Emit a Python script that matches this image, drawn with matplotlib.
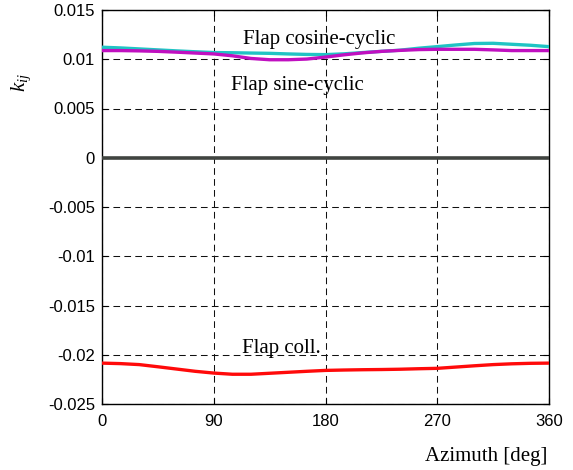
import matplotlib
matplotlib.use("Agg")
import matplotlib.pyplot as plt

plt.rcParams["mathtext.fontset"] = "custom"
plt.rcParams["mathtext.it"] = "Liberation Serif:italic"
plt.rcParams["mathtext.rm"] = "Liberation Serif"

azimuth = [0, 15, 30, 45, 60, 75, 90, 105, 120, 135, 150, 165, 180,
           195, 210, 225, 240, 255, 270, 285, 300, 315, 330, 345, 360]
flap_cos = [0.01122, 0.01115, 0.01105, 0.01095, 0.01085, 0.01076, 0.01068, 0.01066,
            0.01063, 0.01060, 0.01054, 0.01049, 0.01047, 0.01055, 0.01068, 0.01080,
            0.01092, 0.01112, 0.01128, 0.01145, 0.01160, 0.01162, 0.01152, 0.01142, 0.01128]
flap_sin = [0.01088, 0.01088, 0.01085, 0.01080, 0.01072, 0.01063, 0.01054, 0.01035,
            0.01008, 0.00995, 0.00995, 0.01002, 0.01022, 0.01045, 0.01065, 0.01080,
            0.01090, 0.01098, 0.01101, 0.01101, 0.01101, 0.01095, 0.01088, 0.01088, 0.01088]
flap_coll = [-0.02085, -0.02090, -0.02100, -0.02122, -0.02145, -0.02168, -0.02186, -0.02198,
             -0.02198, -0.02188, -0.02178, -0.02168, -0.02159, -0.02155, -0.02152, -0.02150,
             -0.02147, -0.02142, -0.02138, -0.02125, -0.02112, -0.02100, -0.02092, -0.02087, -0.02085]
zero_line = [0.0] * len(azimuth)

xticks = [0, 90, 180, 270, 360]
xticklabels = ["0", "90", "180", "270", "360"]
yticks = [-0.025, -0.02, -0.015, -0.01, -0.005, 0, 0.005, 0.01, 0.015]
yticklabels = ["-0.025", "-0.02", "-0.015", "-0.01", "-0.005", "0", "0.005", "0.01", "0.015"]

fig = plt.figure(figsize=(5.73, 4.70), dpi=100)
ax = fig.add_axes([102 / 573, 1 - 404 / 470, 447 / 573, 394 / 470])

lw = 2.4
ax.plot(azimuth, zero_line, color="#404440", lw=2.6, zorder=3)
ax.plot(azimuth, flap_cos, color="#20c4c4", lw=lw, zorder=4)
ax.plot(azimuth, flap_sin, color="#c010c0", lw=lw, zorder=5)
ax.plot(azimuth, flap_coll, color="#ff0a0a", lw=lw, zorder=4)

ax.set_xlim(0, 360)
ax.set_ylim(-0.025, 0.015)
ax.set_xticks(xticks)
ax.set_xticklabels(xticklabels, family="Liberation Sans", fontsize=12)
ax.set_yticks(yticks)
ax.set_yticklabels(yticklabels, family="Liberation Sans", fontsize=12)
ax.tick_params(direction="in", length=4, width=0.8, top=True, right=True)
ax.tick_params(axis="x", pad=7)
ax.tick_params(axis="y", pad=5)
ax.grid(True, color="#111111", linestyle=(0, (6.4, 4.1)), linewidth=0.75)
for s in ax.spines.values():
    s.set_linewidth(1.0)

serif = "Liberation Serif"
ax.text(113.8, 0.01159, "Flap cosine-cyclic", family=serif, fontsize=15, ha="left", va="baseline", zorder=6)
ax.text(103.9, 0.00686, "Flap sine-cyclic", family=serif, fontsize=15, ha="left", va="baseline", zorder=6)
ax.text(112.5, -0.01983, "Flap coll.", family=serif, fontsize=15, ha="left", va="baseline", zorder=6)

fig.text(21 / 573, 1 - 82 / 470, r"$k_{ij}$", fontsize=15, rotation=90,
         ha="center", va="center")
fig.text(547 / 573, 1 - 457 / 470, "Azimuth [deg]", family=serif, fontsize=15,
         ha="right", va="center")

fig.savefig("out.png", dpi=100)
